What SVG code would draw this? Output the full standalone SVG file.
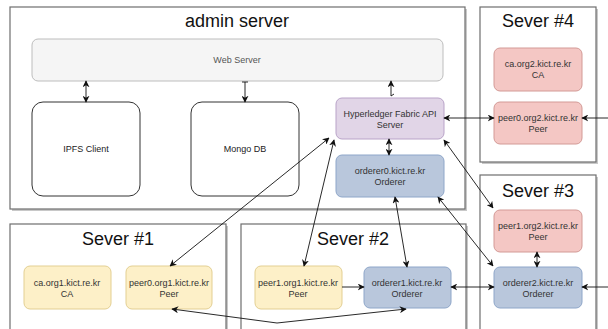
<svg xmlns="http://www.w3.org/2000/svg" width="608" height="329" viewBox="0 0 608 329">
<style>
.cont{fill:#fff;stroke:#6e6e6e;stroke-width:1.2}
.shadow{fill:#c8c8c8}
.title{font-family:"Liberation Sans",Arial,sans-serif;font-size:18px;fill:#111;text-anchor:middle}
.lbl{font-family:"Liberation Sans",Arial,sans-serif;font-size:9px;fill:#333;text-anchor:middle}
.web{fill:#f5f5f5;stroke:#bdbdbd;stroke-width:1}
.white{fill:#fff;stroke:#333;stroke-width:1}
.purple{fill:#e1d5e7;stroke:#b9a3c8;stroke-width:1}
.blue{fill:#b9c7dc;stroke:#8ea6c9;stroke-width:1}
.red{fill:#f4c7c4;stroke:#d39a96;stroke-width:1}
.yellow{fill:#fdf0c8;stroke:#e3cf92;stroke-width:1}
.conn{fill:none;stroke:#111;stroke-width:0.9}
</style>
<defs>
<marker id="ah" viewBox="0 0 10 10" refX="9" refY="5" markerWidth="7" markerHeight="7" markerUnits="userSpaceOnUse" orient="auto-start-reverse">
<path d="M0,0 L10,5 L0,10 L3,5 Z" fill="#111"/>
</marker>
</defs>
<rect width="608" height="329" fill="#fff"/>

<g id="admin-server">
<rect class="shadow" x="12" y="9" width="455" height="202"/>
<rect class="cont" x="10" y="7" width="455" height="202"/>
<text class="title" x="237" y="27">admin server</text>
</g>
<g id="sever4">
<rect class="shadow" x="482" y="9" width="116" height="155"/>
<rect class="cont" x="480" y="7" width="116" height="155"/>
<text class="title" x="538" y="27">Sever #4</text>
</g>
<g id="sever3">
<rect class="shadow" x="482" y="177" width="116" height="160"/>
<rect class="cont" x="480" y="175" width="116" height="160"/>
<text class="title" x="538" y="197">Sever #3</text>
</g>
<g id="sever1">
<rect class="shadow" x="12" y="226" width="216" height="120"/>
<rect class="cont" x="10" y="224" width="216" height="120"/>
<text class="title" x="118" y="245">Sever #1</text>
</g>
<g id="sever2">
<rect class="shadow" x="243" y="226" width="225" height="120"/>
<rect class="cont" x="241" y="224" width="225" height="120"/>
<text class="title" x="353" y="245">Sever #2</text>
</g>

<g id="web-server">
<rect class="web" x="32" y="39" width="411" height="42" rx="6"/>
<text class="lbl" x="237" y="63" style="fill:#555">Web Server</text>
</g>
<g id="ipfs-client">
<rect class="white" x="32" y="102" width="108" height="94" rx="11"/>
<text class="lbl" x="86" y="152" style="fill:#222">IPFS Client</text>
</g>
<g id="mongo-db">
<rect class="white" x="191" y="102" width="108" height="94" rx="11"/>
<text class="lbl" x="245" y="152" style="fill:#222">Mongo DB</text>
</g>
<g id="hyperledger-api">
<rect class="purple" x="336" y="98" width="108" height="41" rx="6"/>
<text class="lbl" x="390" y="117">Hyperledger Fabric API</text>
<text class="lbl" x="390" y="128">Server</text>
</g>
<g id="orderer0">
<rect class="blue" x="336" y="155" width="108" height="42" rx="6"/>
<text class="lbl" x="390" y="174">orderer0.kict.re.kr</text>
<text class="lbl" x="390" y="185">Orderer</text>
</g>
<g id="ca-org2">
<rect class="red" x="494" y="48" width="88" height="43" rx="6"/>
<text class="lbl" x="538" y="67">ca.org2.kict.re.kr</text>
<text class="lbl" x="538" y="78">CA</text>
</g>
<g id="peer0-org2">
<rect class="red" x="494" y="102" width="88" height="42" rx="6"/>
<text class="lbl" x="538" y="121">peer0.org2.kict.re.kr</text>
<text class="lbl" x="538" y="132">Peer</text>
</g>
<g id="peer1-org2">
<rect class="red" x="494" y="210" width="88" height="42" rx="6"/>
<text class="lbl" x="538" y="229">peer1.org2.kict.re.kr</text>
<text class="lbl" x="538" y="240">Peer</text>
</g>
<g id="orderer2">
<rect class="blue" x="494" y="267" width="88" height="41" rx="6"/>
<text class="lbl" x="538" y="286">orderer2.kict.re.kr</text>
<text class="lbl" x="538" y="297">Orderer</text>
</g>
<g id="orderer1">
<rect class="blue" x="364" y="267" width="87" height="41" rx="6"/>
<text class="lbl" x="407" y="286">orderer1.kict.re.kr</text>
<text class="lbl" x="407" y="297">Orderer</text>
</g>
<g id="peer1-org1">
<rect class="yellow" x="255" y="266" width="87" height="43" rx="6"/>
<text class="lbl" x="298" y="286">peer1.org1.kict.re.kr</text>
<text class="lbl" x="298" y="297">Peer</text>
</g>
<g id="ca-org1">
<rect class="yellow" x="24" y="266" width="87" height="43" rx="6"/>
<text class="lbl" x="67" y="286">ca.org1.kict.re.kr</text>
<text class="lbl" x="67" y="297">CA</text>
</g>
<g id="peer0-org1">
<rect class="yellow" x="126" y="266" width="86" height="43" rx="6"/>
<text class="lbl" x="169" y="286">peer0.org1.kict.re.kr</text>
<text class="lbl" x="169" y="297">Peer</text>
</g>

<g id="connectors">
<path class="conn" d="M86,81 L86,102" marker-start="url(#ah)" marker-end="url(#ah)"/>
<path class="conn" d="M245,82 L245,102" marker-end="url(#ah)"/>
<path class="conn" d="M242,82 L248,82"/>
<path class="conn" d="M391,96 L391,81" marker-end="url(#ah)"/>
<path class="conn" d="M391,96 L394,94"/>
<path class="conn" d="M389,139 L389,155" marker-start="url(#ah)" marker-end="url(#ah)"/>
<path class="conn" d="M444,118 L494,118" marker-start="url(#ah)" marker-end="url(#ah)"/>
<path class="conn" d="M608,118 L582,118" marker-end="url(#ah)"/>
<path class="conn" d="M444,140 L493,208" marker-start="url(#ah)" marker-end="url(#ah)"/>
<path class="conn" d="M438,197 L493,266" marker-start="url(#ah)" marker-end="url(#ah)"/>
<path class="conn" d="M395,197 L407,267" marker-start="url(#ah)" marker-end="url(#ah)"/>
<path class="conn" d="M334,140 L304,266" marker-start="url(#ah)" marker-end="url(#ah)"/>
<path class="conn" d="M329,138 L170,266" marker-start="url(#ah)" marker-end="url(#ah)"/>
<path class="conn" d="M342,287 L364,287" marker-end="url(#ah)"/>
<path class="conn" d="M451,287 L494,287" marker-start="url(#ah)" marker-end="url(#ah)"/>
<path class="conn" d="M608,287 L582,287" marker-end="url(#ah)"/>
<path class="conn" d="M537,252 L537,267" marker-start="url(#ah)" marker-end="url(#ah)"/>
<path class="conn" d="M172,309 L277,323 L406,309" marker-start="url(#ah)" marker-end="url(#ah)"/>
</g>
</svg>
